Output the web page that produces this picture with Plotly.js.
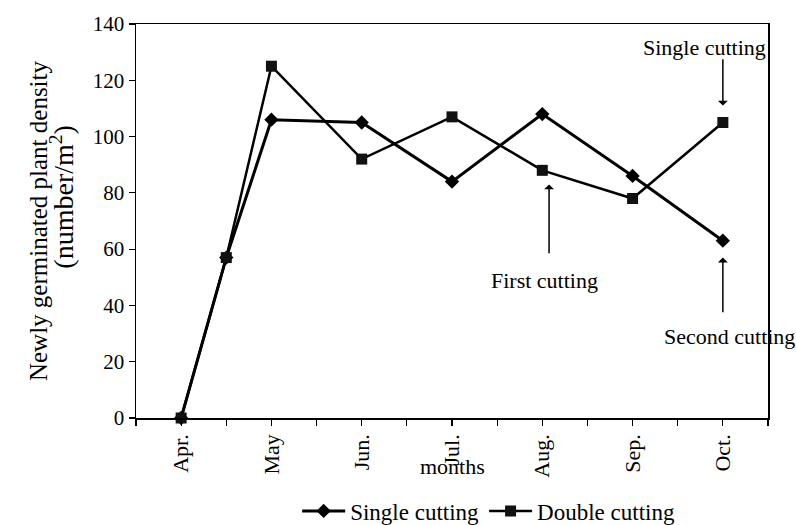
<!DOCTYPE html>
<html>
<head>
<meta charset="utf-8">
<script src="https://cdn.plot.ly/plotly-3.0.1.min.js"></script>
<style>html,body{margin:0;padding:0;background:#fff;}#chart{width:796px;height:525px;}</style>
</head>
<body>
<div id="chart"></div>
<script>
// Data
var positions = [1, 2, 3, 5, 7, 9, 11, 13];
var singleCutting = [0, 57, 106, 105, 84, 108, 86, 63];
var doubleCutting = [0, 57, 125, 92, 107, 88, 78, 105];
var tickPositions = [1, 3, 5, 7, 9, 11, 13];
var tickLabels = ["Apr.", "May", "Jun.", "Jul.", "Aug.", "Sep.", "Oct."];
var seriesNames = ["Single cutting", "Double cutting"];
var yTitle1 = "Newly germinated plant density";
var yTitle2 = "(number/m<sup>2</sup>)";
var xTitle = "months";

var FONT = "Liberation Serif, Times New Roman, serif";

var traces = [
  {
    x: positions, y: singleCutting, name: seriesNames[0], type: "scatter", mode: "lines+markers",
    line: {color: "#000", width: 3},
    marker: {symbol: "diamond", size: 11, color: "#000"},
    cliponaxis: false
  },
  {
    x: positions, y: doubleCutting, name: seriesNames[1], type: "scatter", mode: "lines+markers",
    line: {color: "#000", width: 2.5},
    marker: {symbol: "square", size: 11, color: "#111"},
    cliponaxis: false
  }
];

var arrowStyle = {showarrow: true, arrowhead: 1, arrowsize: 1.1, arrowwidth: 1.5, arrowcolor: "#000", axref: "x", ayref: "y", text: ""};
function label(x, y, text, size, extra) {
  return Object.assign({x: x, y: y, xref: "x", yref: "y", text: text, showarrow: false,
    xanchor: "center", yanchor: "middle", font: {family: FONT, size: size, color: "#000"}}, extra || {});
}

var layout = {
  width: 796, height: 525,
  margin: {l: 136, r: 28, t: 24, b: 107, autoexpand: false},
  paper_bgcolor: "#fff", plot_bgcolor: "#fff",
  font: {family: FONT, color: "#000", size: 21},
  showlegend: true,
  legend: {orientation: "h", x: 0.255, xanchor: "left", y: -0.236, yanchor: "middle", itemwidth: 43,
           font: {family: FONT, size: 23, color: "#000"}, bgcolor: "rgba(0,0,0,0)", tracegroupgap: 0},
  xaxis: {
    range: [0, 14], tickmode: "array", tickvals: tickPositions, ticktext: tickLabels,
    tickangle: -90, ticks: "outside", ticklen: 6, tickwidth: 1.2, tickcolor: "#000",
    minor: {dtick: 1, tick0: 0, ticks: "outside", ticklen: 6, tickwidth: 1.2, tickcolor: "#000", showgrid: false},
    showline: true, linecolor: "#000", linewidth: 1.5, mirror: true,
    showgrid: false, zeroline: false, automargin: false,
    tickfont: {family: FONT, size: 22, color: "#000"}
  },
  yaxis: {
    range: [0, 140], dtick: 20, tick0: 0,
    ticks: "outside", ticklen: 6, tickwidth: 1.2, tickcolor: "#000",
    showline: true, linecolor: "#000", linewidth: 1.5, mirror: true,
    showgrid: false, zeroline: false, automargin: false,
    tickfont: {family: FONT, size: 21, color: "#000"}
  },
  annotations: [
    Object.assign({}, arrowStyle, {x: 13, y: 111, ax: 13, ay: 128}),
    Object.assign({}, arrowStyle, {x: 9.15, y: 83, ax: 9.15, ay: 58}),
    Object.assign({}, arrowStyle, {x: 13, y: 57, ax: 13, ay: 37}),
    label(12.6, 131.8, seriesNames[0], 22),
    label(9.06, 49, "First cutting", 22),
    label(13.15, 28.8, "Second cutting", 22),
    label(0.5, -0.124, xTitle, 22, {xref: "paper", yref: "paper"}),
    label(-0.155, 0.5, yTitle1, 25, {xref: "paper", yref: "paper", textangle: -90}),
    label(-0.116, 0.561, yTitle2, 28, {xref: "paper", yref: "paper", textangle: -90})
  ]
};

Plotly.newPlot("chart", traces, layout, {displayModeBar: false, staticPlot: true});
</script>
</body>
</html>
